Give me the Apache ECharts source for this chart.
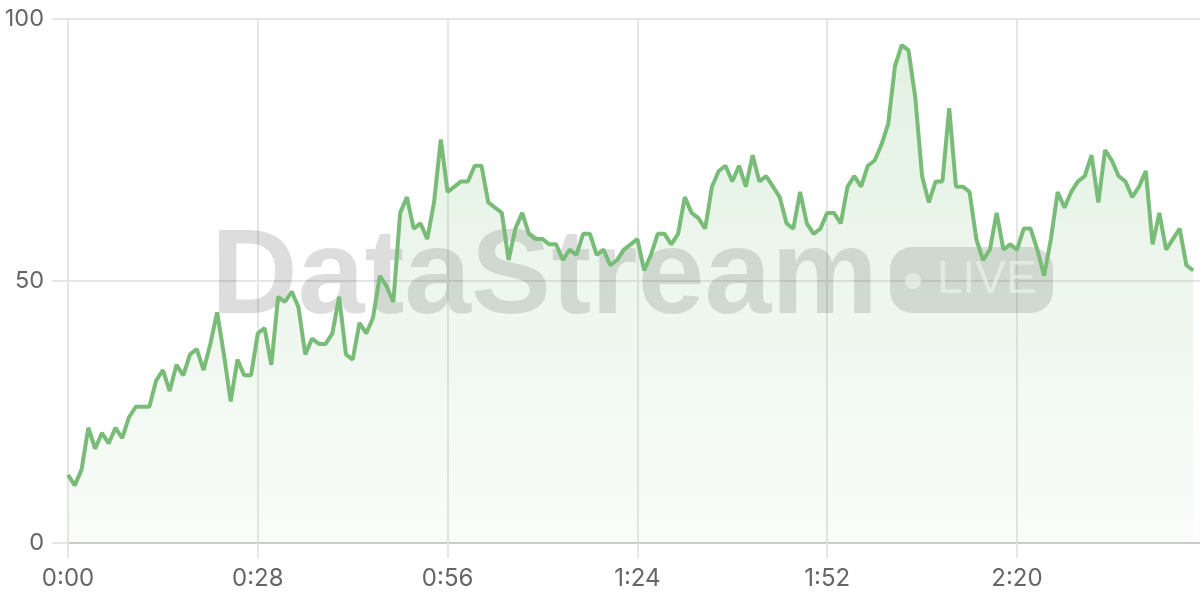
<!DOCTYPE html>
<html>
<head>
<meta charset="utf-8">
<script src="https://cdn.jsdelivr.net/npm/echarts@6/dist/echarts.min.js"></script>
<style>
html,body{margin:0;padding:0;background:#fff;}
#chart{width:1200px;height:600px;}
</style>
</head>
<body>
<div id="chart"></div>
<script>
// Number of one-second category slots on the x axis (0:00 .. 2:47)
var categoryCount = 168;
// Values sampled every second
var values = [
  13,11,14,22,18,21,19,22,20,24,
  26,26,26,31,33,29,34,32,36,37,
  33,38,44,36,27,35,32,32,40,41,
  34,47,46,48,45,36,39,38,38,40,
  47,36,35,42,40,43,51,49,46,63,
  66,60,61,58,65,77,67,68,69,69,
  72,72,65,64,63,54,60,63,59,58,
  58,57,57,54,56,55,59,59,55,56,
  53,54,56,57,58,52,55,59,59,57,
  59,66,63,62,60,68,71,72,69,72,
  68,74,69,70,68,66,61,60,67,61,
  59,60,63,63,61,68,70,68,72,73,
  76,80,91,95,94,85,70,65,69,69,
  83,68,68,67,58,54,56,63,56,57,
  56,60,60,56,51,58,67,64,67,69,
  70,74,65,75,73,70,69,66,68,71,
  57,63,56,58,60,53,52
];
var yTicks = [0, 50, 100];
var watermarkTitle = 'DataStream';
var watermarkBadge = 'LIVE';

function fmt(s){ var m = Math.floor(s/60), r = s%60; return m + ':' + (r<10?'0':'') + r; }
var categories = [];
for (var i = 0; i < categoryCount; i++) categories.push(fmt(i));

var chart = echarts.init(document.getElementById('chart'), null, {renderer:'canvas'});
var labelFont = 'Inter, "Liberation Sans", Arial, sans-serif';
var wm = 'rgba(0,0,0,0.135)';
chart.setOption({
  animation: false,
  grid: {left: 68, right: 0, top: 19, bottom: 57, containLabel: false},
  xAxis: {
    type: 'category',
    data: categories,
    boundaryGap: false,
    axisLine: {show: true, lineStyle: {color: '#cccccc', width: 2}},
    axisTick: {show: true, interval: 27, length: 15, lineStyle: {color: '#e6e6e6', width: 2}},
    axisLabel: {interval: 27, color: '#666', fontSize: 24, fontFamily: labelFont, margin: 24},
    splitLine: {show: true, interval: 27, lineStyle: {color: '#e6e6e6', width: 2}}
  },
  yAxis: {
    type: 'value',
    min: yTicks[0], max: yTicks[yTicks.length-1], interval: 50,
    axisLine: {show: false},
    axisTick: {show: true, length: 16, lineStyle: {color: '#e6e6e6', width: 2}},
    axisLabel: {color: '#666', fontSize: 23.5, fontFamily: labelFont, margin: 24},
    splitLine: {show: true, lineStyle: {color: '#e6e6e6', width: 2}}
  },
  graphic: [
    {type: 'text', z: 1, style: {text: watermarkTitle, x: 211, y: 280, verticalAlign: 'middle', fill: wm,
      font: 'bold 120px "Liberation Sans", Arial, sans-serif'}, silent: true},
    {type: 'rect', z: 1, shape: {x: 890, y: 247, width: 163, height: 66, r: 22}, style: {fill: wm}, silent: true},
    {type: 'circle', z: 1, shape: {cx: 913, cy: 281, r: 8}, style: {fill: 'rgba(255,255,255,0.6)'}, silent: true},
    {type: 'text', z: 1, style: {text: watermarkBadge, x: 937, y: 280, verticalAlign: 'middle', fill: 'rgba(255,255,255,0.6)',
      font: '46px "Liberation Sans", Arial, sans-serif'}, silent: true}
  ],
  series: [{
    type: 'line',
    data: values,
    z: 3,
    symbol: 'none',
    smooth: false,
    lineStyle: {color: '#78bc78', width: 4},
    areaStyle: {color: new echarts.graphic.LinearGradient(0, 0, 0, 1, [
      {offset: 0, color: 'rgba(120,188,120,0.30)'},
      {offset: 1, color: 'rgba(120,188,120,0.06)'}
    ])}
  }]
});
</script>
</body>
</html>
